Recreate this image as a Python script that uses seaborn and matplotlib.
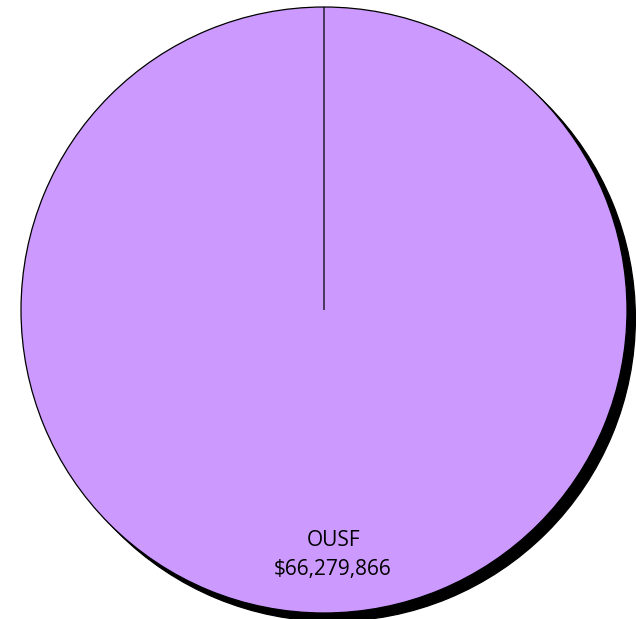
import matplotlib
matplotlib.use("Agg")
import matplotlib.pyplot as plt
import seaborn as sns

# data
categories = ["OUSF", "Other"]
amounts = [66279866, 0]
colors = ["#CC99FF", "#CC99FF"]

sns.set_theme(style="white")
plt.rcParams['font.family'] = ['Open Sans', 'DejaVu Sans']

labels = [f"{c}\n${a:,.0f}" if a > 0 else "" for c, a in zip(categories, amounts)]

fig = plt.figure(figsize=(6.36, 6.19), dpi=100)
ax = fig.add_axes([0, 0, 1, 1])

wedges, texts = ax.pie(
    amounts, labels=labels, colors=colors, startangle=90, counterclock=False,
    radius=1.0, labeldistance=0.81,
    wedgeprops=dict(edgecolor="black", linewidth=0.9),
    textprops=dict(ha="center", va="center", fontsize=15, color="black", linespacing=1.5),
    shadow={'ox': 0.02, 'oy': -0.02, 'shade': 1.0, 'alpha': 1.0},
)

# label sits a little right of centre in the reference
for t in texts:
    x, y = t.get_position()
    t.set_position((x + 0.03, y))

# place pie like the reference (center ~ (324, 310) px, radius ~303 px)
ax.set_xlim(-324 / 303, (636 - 324) / 303)
ax.set_ylim(-(619 - 310) / 303, 310 / 303)
ax.set_aspect("auto")
ax.axis("off")

fig.savefig("out.png", dpi=100)
